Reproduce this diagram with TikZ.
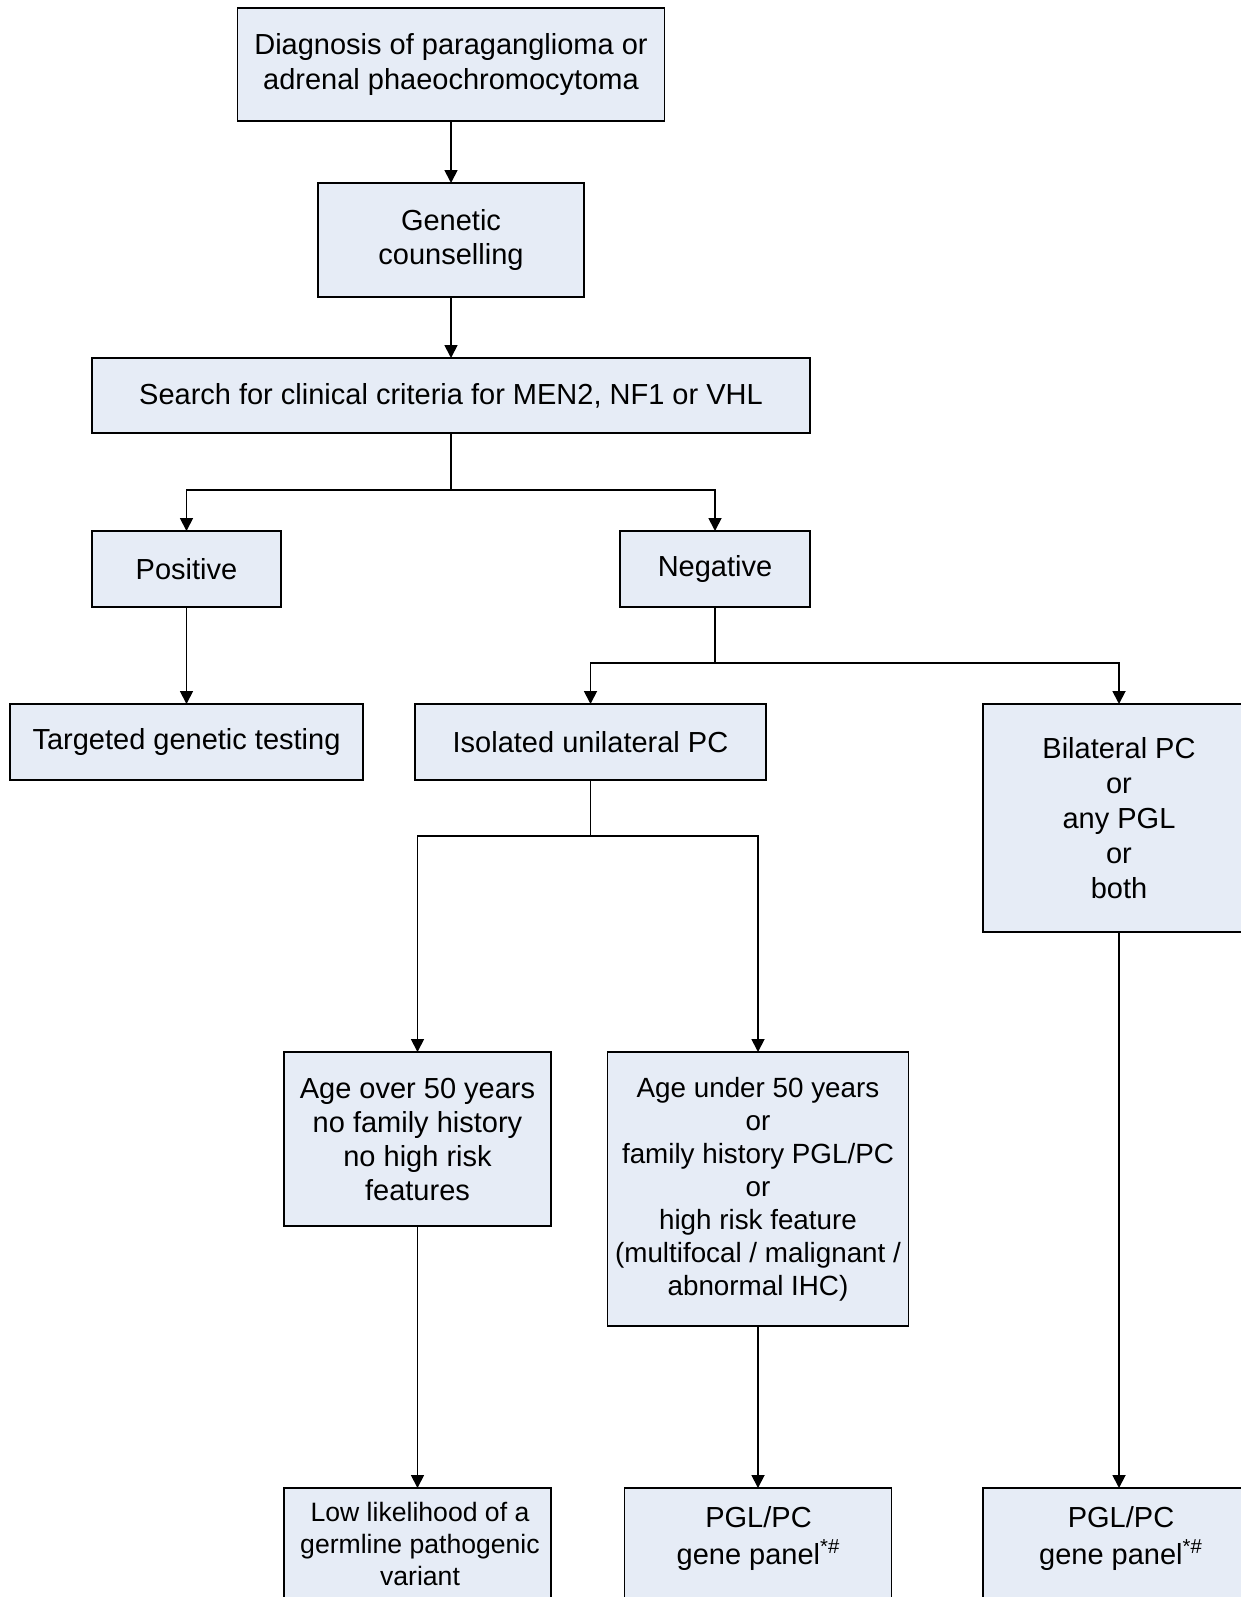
\documentclass[tikz,border=0pt]{standalone}
\usepackage{fontspec}
\setmainfont{Liberation Sans}
\usetikzlibrary{arrows.meta}
\definecolor{boxfill}{RGB}{230,236,246}
\tikzset{
  box/.style={draw=black, line width=0.9pt, fill=boxfill, inner sep=0pt, outer sep=0pt, align=center,
    font=\fontsize{14.5}{17.3}\selectfont},
  txt/.style={inner sep=0pt, align=center, font=\fontsize{14.5}{17.3}\selectfont},
  conn/.style={line width=0.9pt, draw=black},
  arr/.style={conn, -{Triangle[length=6.5pt,width=6.5pt]}}
}
\begin{document}
\begin{tikzpicture}[x=0.5pt,y=-0.5pt]
\useasboundingbox (0,0) rectangle (1241,1597);
\clip (0,0) rectangle (1241,1597);
\node[box, minimum width=213.5pt, minimum height=56.5pt] (diag) at (451,64.5) {Diagnosis of paraganglioma or\\adrenal phaeochromocytoma};
\node[box, minimum width=133pt, minimum height=57pt] (gc) at (451,240) {Genetic\\counselling};
\node[box, minimum width=359pt, minimum height=37.5pt] (search) at (451,395.5) {Search for clinical criteria for MEN2, NF1 or VHL};
\node[box, minimum width=94.5pt, minimum height=38pt] (pos) at (186.5,569) {Positive};
\node[box, minimum width=95pt, minimum height=38pt] (neg) at (715,569) {Negative};
\node[box, minimum width=176.5pt, minimum height=38pt] (targ) at (186.5,742) {Targeted genetic testing};
\node[box, minimum width=175.5pt, minimum height=38pt] (iso) at (590.5,742) {Isolated unilateral PC};
\node[box, minimum width=136pt, minimum height=114pt, font=\fontsize{14.5}{17.5}\selectfont] (bilat) at (1119,818) {Bilateral PC\\or\\any PGL\\or\\both};
\node[box, minimum width=133.5pt, minimum height=87pt, font=\fontsize{14.5}{17}\selectfont] (over) at (417.5,1139) {Age over 50 years\\no family history\\no high risk\\features};
\node[box, minimum width=150.5pt, minimum height=137pt, font=\fontsize{13.9}{16.5}\selectfont] (under) at (758,1189) {Age under 50 years\\or\\family history PGL/PC\\or\\high risk feature\\(multifocal / malignant /\\abnormal IHC)};
\node[box, minimum width=133.5pt, minimum height=66pt] (low) at (417.5,1554) {};
\node[box, minimum width=133.5pt, minimum height=66pt] (pglm) at (758,1554) {};
\node[box, minimum width=136pt, minimum height=66pt] (pglr) at (1119,1554) {};
\node[txt, font=\fontsize{13.3}{15.8}\selectfont] (lowt) at (420,1544) {Low likelihood of a\\germline pathogenic\\variant};
\node[txt, font=\fontsize{14.5}{18.5}\selectfont] (pglmt) at (758.5,1538) {PGL/PC\\gene panel\textsuperscript{*\#}};
\node[txt, font=\fontsize{14.5}{18.5}\selectfont] (pglrt) at (1121,1538) {PGL/PC\\gene panel\textsuperscript{*\#}};
\coordinate (j1) at (451,490);
\coordinate (j2) at (715,663);
\coordinate (j3) at (590.5,836);
\draw[arr] (diag.south) -- (gc.north);
\draw[arr] (gc.south) -- (search.north);
\draw[conn] (search.south) -- (j1);
\draw[arr] (j1) -| (pos.north);
\draw[arr] (j1) -| (neg.north);
\draw[arr] (pos.south) -- (targ.north);
\draw[conn] (neg.south) -- (j2);
\draw[arr] (j2) -| (iso.north);
\draw[arr] (j2) -| (bilat.north);
\draw[conn] (iso.south) -- (j3);
\draw[arr] (j3) -| (over.north);
\draw[arr] (j3) -| (under.north);
\draw[arr] (over.south) -- (low.north);
\draw[arr] (under.south) -- (pglm.north);
\draw[arr] (bilat.south) -- (pglr.north);
\end{tikzpicture}
\end{document}
